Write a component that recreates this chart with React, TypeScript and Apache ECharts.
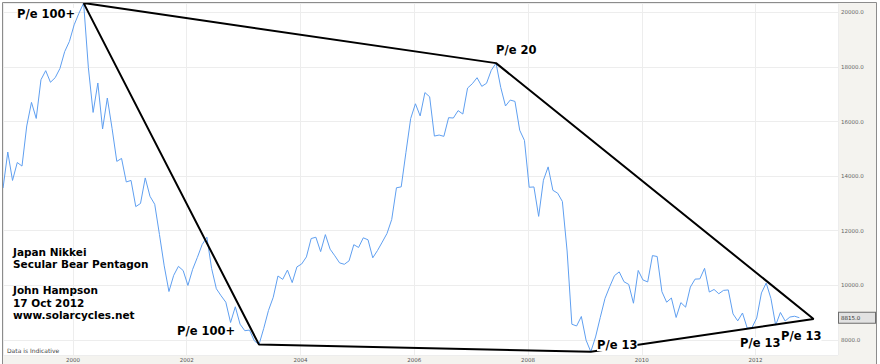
import React, { useEffect, useRef } from 'react';
import * as echarts from 'echarts';

// Nikkei 225 monthly closes (Oct 1998 – Oct 2012)
const startYear = 1998;
const startMonth = 10;
const nikkei1998 = [13564, 14883, 13842];
const nikkei1999 = [14499, 14368, 15837, 16701, 16112, 17530, 17862, 17437, 17605, 17942, 18558, 18934];
const nikkei2000 = [19540, 19960, 20337, 17974, 16332, 17411, 15727, 16861, 15747, 14540, 14649, 13786];
const nikkei2001 = [13843, 12884, 12999, 13934, 13262, 12969, 11860, 10714, 9775, 10367, 10697, 10543];
const nikkei2002 = [9998, 10588, 11025, 11493, 11764, 10622, 9877, 9619, 9383, 8640, 9216, 8579];
const nikkei2003 = [8340, 8363, 7973, 7831, 8425, 9083, 9563, 10344, 10219, 10560, 10101, 10677];
const nikkei2004 = [10784, 11042, 11715, 11762, 11236, 11859, 11326, 11082, 10824, 10771, 10899, 11489];
const nikkei2005 = [11388, 11741, 11669, 11009, 11277, 11584, 11900, 12414, 13574, 13607, 14872, 16111];
const nikkei2006 = [16650, 16205, 17060, 16906, 15467, 15505, 15457, 16141, 16128, 16399, 16274, 17226];
const nikkei2007 = [17383, 17604, 17288, 17400, 17876, 18138, 17249, 16569, 16786, 16737, 15681, 15308];
const nikkei2008 = [13592, 13604, 12526, 13850, 14339, 13481, 13377, 13073, 11260, 8577, 8512, 8860];
const nikkei2009 = [7994, 7568, 8110, 8828, 9523, 9958, 10357, 10493, 10133, 10035, 9346, 10546];
const nikkei2010 = [10198, 10126, 11090, 11057, 9769, 9383, 9537, 8824, 9369, 9202, 9937, 10229];
const nikkei2011 = [10238, 10624, 9755, 9850, 9694, 9816, 9833, 8955, 8700, 8988, 8435, 8455];
const nikkei2012 = [8803, 9723, 10084, 9521, 8543, 9007, 8695, 8840, 8870, 8815];

// Secular bear pentagon vertices
const pentagonDates = ['2000-03', '2007-06', '2013-01', '2009-02', '2003-04', '2000-03'];
const pentagonValues = [20337, 18138, 8770, 7568, 7831, 20337];

const lastValue = 8815;

const annotationLines = ['Japan Nikkei', 'Secular Bear Pentagon', 'John Hampson', '17 Oct 2012', 'www.solarcycles.net'];

function monthToX(year: number, month: number) {
  return year + (month - 0.75) / 12;
}

function buildSeries() {
  const years = [
    nikkei1998, nikkei1999, nikkei2000, nikkei2001, nikkei2002, nikkei2003, nikkei2004,
    nikkei2005, nikkei2006, nikkei2007, nikkei2008, nikkei2009, nikkei2010, nikkei2011, nikkei2012,
  ];
  const out: [number, number][] = [];
  years.forEach((vals, i) => {
    const y = startYear + i;
    const m0 = i === 0 ? startMonth : 1;
    vals.forEach((v, j) => out.push([monthToX(y, m0 + j), v]));
  });
  return out;
}

function buildPentagon() {
  return pentagonDates.map((d, i) => {
    const [y, m] = d.split('-').map(Number);
    return [monthToX(y, m), pentagonValues[i]];
  });
}

export default function App() {
  const ref = useRef<HTMLDivElement>(null);
  useEffect(() => {
    document.body.style.margin = '0';
    if (!ref.current) return;
    const chart = echarts.init(ref.current, undefined, { renderer: 'svg' });
    const peFont = 'bold 11.5px "DejaVu Sans"';
    const blockFont = 'bold 10.5px "DejaVu Sans"';
    const peText = (text: string, x: number, y: number) => ({
      type: 'text', z: 100, x, y,
      style: { text, font: peFont, fill: '#000', backgroundColor: '#fff', verticalAlign: 'middle', align: 'left' },
    });
    const blockY = [252, 264, 290, 302.5, 315];
    chart.setOption({
      animation: false,
      backgroundColor: '#f4f3ef',
      grid: { left: 3, right: 42, top: 3, bottom: 9, show: true, backgroundColor: '#fff', borderWidth: 0 },
      xAxis: {
        type: 'value', min: 1998.77, max: 2013.45, splitNumber: 7,
        axisLine: { show: false }, axisTick: { show: false },
        axisLabel: {
          fontSize: 5.5, fontFamily: 'DejaVu Sans', color: '#555', margin: 2,
          formatter: (v: number) => (Math.abs(v - Math.round(v)) < 1e-6 && Math.round(v) % 2 === 0 ? String(Math.round(v)) : ''),
        },
        splitLine: { show: true, lineStyle: { color: '#ededed', width: 1 } },
      },
      yAxis: {
        type: 'value', position: 'right', min: 7450, max: 20340, splitNumber: 6,
        axisLine: { show: false }, axisTick: { show: false },
        axisLabel: {
          fontSize: 5.5, fontFamily: 'DejaVu Sans', color: '#666', margin: 3,
          formatter: (v: number) => (Math.abs(v % 2000) < 1e-6 ? v.toFixed(1) : ''),
        },
        splitLine: { show: true, lineStyle: { color: '#ededed', width: 1 } },
      },
      series: [
        {
          type: 'line', data: buildSeries(), showSymbol: false, symbol: 'none', z: 2,
          lineStyle: { color: '#5f9ff0', width: 1 },
          markLine: {
            silent: true, symbol: ['none', 'none'],
            lineStyle: { color: 'rgba(0,0,0,0)', width: 0 },
            label: {
              show: true, position: 'end', distance: 1, formatter: lastValue.toFixed(1),
              fontSize: 5.5, fontFamily: 'DejaVu Sans', color: '#333',
              backgroundColor: '#e2e2e2', borderColor: '#6e6e6e', borderWidth: 1,
              padding: [2, 2, 2, 2], width: 32, lineHeight: 6,
            },
            data: [{ yAxis: lastValue }],
          },
        },
        {
          type: 'line', data: buildPentagon(), showSymbol: false, symbol: 'none', z: 3,
          lineStyle: { color: '#000', width: 2 },
        },
      ],
      graphic: [
        { type: 'rect', z: 100, shape: { x: 0, y: 0, width: 880, height: 2 }, style: { fill: '#fff' } },
        { type: 'rect', z: 100, shape: { x: 0, y: 0, width: 2, height: 364 }, style: { fill: '#fff' } },
        { type: 'rect', z: 100, shape: { x: 877, y: 0, width: 3, height: 364 }, style: { fill: '#fff' } },
        { type: 'rect', z: 101, shape: { x: 2.5, y: 2.5, width: 874, height: 370 }, style: { fill: 'none', stroke: '#8c8c8c', lineWidth: 1 } },
        peText('P/e 100+', 17, 14),
        peText('P/e 20', 496, 50),
        peText('P/e 100+', 177, 331),
        peText('P/e 13', 597, 345),
        peText('P/e 13', 740, 343),
        peText('P/e 13', 781, 336),
        ...annotationLines.map((t, i) => ({
          type: 'text', z: 100, x: 13, y: blockY[i],
          style: { text: t, font: blockFont, fill: '#000', verticalAlign: 'middle', align: 'left' },
        })),
        {
          type: 'text', z: 100, x: 7, y: 350,
          style: { text: 'Data is Indicative', font: '6px "DejaVu Sans"', fill: '#444', verticalAlign: 'middle', align: 'left' },
        },
      ],
    });
    return () => chart.dispose();
  }, []);
  return <div ref={ref} style={{ width: 880, height: 364 }} />;
}
